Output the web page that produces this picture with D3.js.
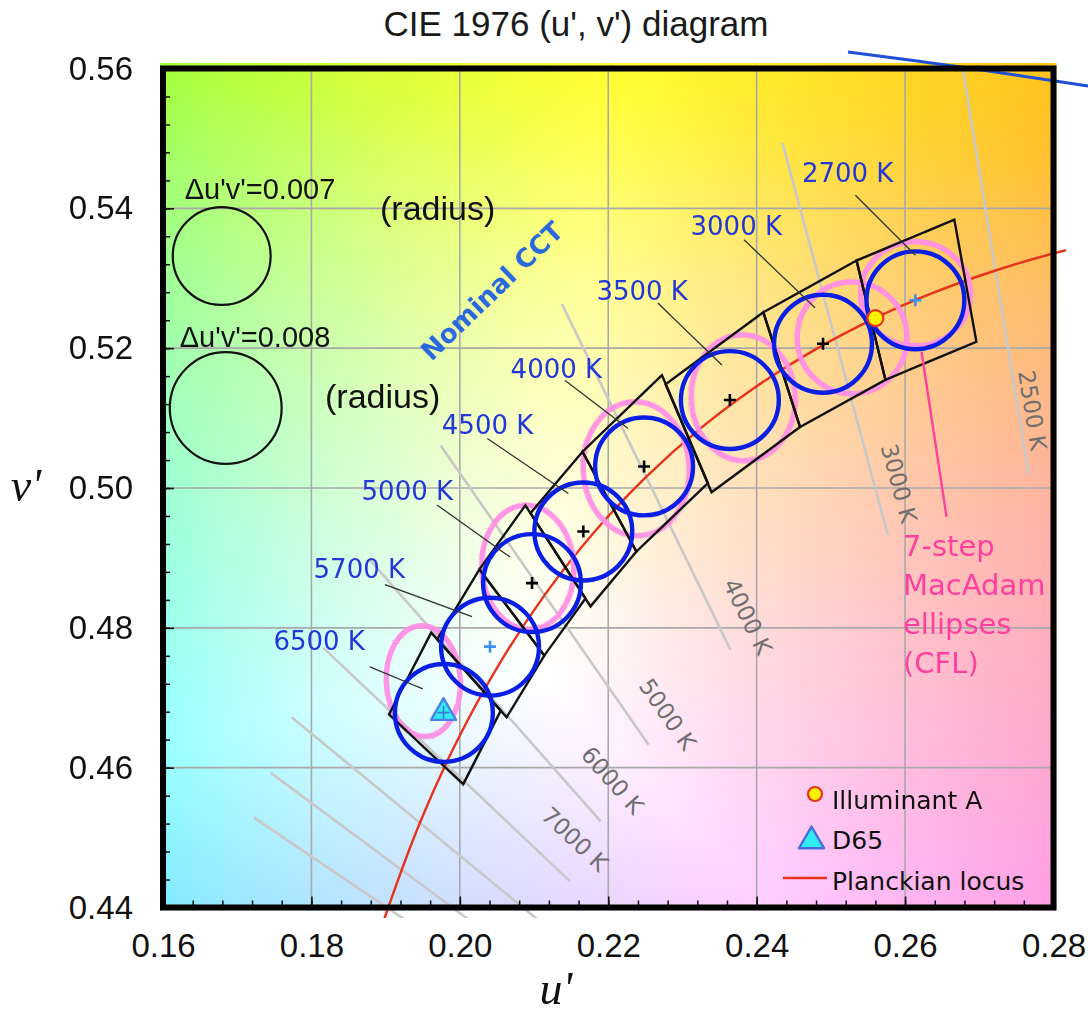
<!DOCTYPE html>
<html>
<head>
<meta charset="utf-8">
<script src="https://cdn.jsdelivr.net/npm/d3@7"></script>
<style>
  html, body { margin: 0; padding: 0; background: #fff; }
  svg { display: block; }
</style>
</head>
<body>
<svg id="chart" width="1088" height="1016"></svg>
<script>
// ---------------- data ----------------
const uTicks = [0.16, 0.18, 0.20, 0.22, 0.24, 0.26, 0.28];
const vTicks = [0.44, 0.46, 0.48, 0.50, 0.52, 0.54, 0.56];
const tickLabelsU = ["0.16", "0.18", "0.20", "0.22", "0.24", "0.26", "0.28"];
const tickLabelsV = ["0.44", "0.46", "0.48", "0.50", "0.52", "0.54", "0.56"];

// Planckian locus in (u', v')
const locusT = [11111, 10000, 8000, 6667, 5714, 5000, 4444, 4000, 3636, 3333, 3077, 2857, 2667, 2500, 2353, 2222];
const locusU = [0.18880, 0.19032, 0.19462, 0.19962, 0.20525, 0.21142, 0.21807, 0.22511, 0.23247, 0.24010, 0.24792, 0.25591, 0.26400, 0.27218, 0.28039, 0.28863];
const locusV = [0.43496, 0.43989, 0.45212, 0.46382, 0.47471, 0.48468, 0.49364, 0.50159, 0.50856, 0.51462, 0.51983, 0.52427, 0.52800, 0.53111, 0.53366, 0.53571];

// Isotemperature lines: locus point and slope dv/du in the CIE 1960 (u, v) plane
const isoT = [2500, 3000, 4000, 5000, 6000, 7000, 8000, 9000, 10000];
const isoU = [0.27218, 0.25058, 0.22511, 0.21142, 0.20337, 0.19819, 0.19462, 0.19223, 0.19032];
const isoV = [0.53111, 0.52131, 0.50159, 0.48468, 0.47108, 0.46047, 0.45212, 0.44532, 0.43989];
const isoSlope = [-4.3633, -2.6334, -1.4512, -1.0182, -0.8009, -0.6697, -0.58204, -0.5247, -0.47888];
const isoLabels = ["2500 K", "3000 K", "4000 K", "5000 K", "6000 K", "7000 K", "", "", ""];
const isoHalfLength = 0.02; // Δuv on each side of the locus

// ANSI C78.377 nominal CCT quadrangles
const ansiLabels = ["2700 K", "3000 K", "3500 K", "4000 K", "4500 K", "5000 K", "5700 K", "6500 K"];
const ansiCenterU = [0.26139, 0.24894, 0.23639, 0.22483, 0.21664, 0.20973, 0.20407, 0.19785];
const ansiCenterV = [0.52685, 0.52063, 0.51258, 0.50308, 0.49378, 0.48640, 0.47731, 0.46783];
const ansiCornerU = [
  [0.26664, 0.25346, 0.25735, 0.26961],
  [0.25346, 0.24090, 0.24584, 0.25735],
  [0.24090, 0.22773, 0.23392, 0.24584],
  [0.22724, 0.21653, 0.22379, 0.23343],
  [0.21653, 0.20952, 0.21761, 0.22379],
  [0.20883, 0.20264, 0.21138, 0.21693],
  [0.20264, 0.19696, 0.20630, 0.21138],
  [0.19614, 0.19046, 0.20046, 0.20552]
];
const ansiCornerV = [
  [0.53837, 0.53253, 0.51548, 0.52092],
  [0.53253, 0.52513, 0.50873, 0.51548],
  [0.52513, 0.51483, 0.49939, 0.50873],
  [0.51613, 0.50519, 0.49091, 0.50069],
  [0.50519, 0.49640, 0.48307, 0.49091],
  [0.49752, 0.48836, 0.47603, 0.48420],
  [0.48836, 0.47840, 0.46720, 0.47603],
  [0.47932, 0.46761, 0.45764, 0.46816]
];
const toleranceRadius = 0.007; // Δu'v' circle radius around each nominal CCT

// 7-step MacAdam ellipses for CFL
const cflT = [6500, 5000, 4000, 3500, 3000, 2700];
const cflU = [0.19508, 0.20916, 0.22377, 0.23818, 0.25286, 0.26141];
const cflV = [0.47238, 0.48867, 0.50275, 0.51290, 0.52148, 0.52777];
const cflRadiusU = [0.00499, 0.00620, 0.00714, 0.00700, 0.00740, 0.00740];
const cflRadiusV = [0.00794, 0.00887, 0.00958, 0.00900, 0.00800, 0.00744];
const cflTilt = [-3, -3, -3, -3, -3, 0];

// reference circles
const refRadius = [0.007, 0.008];
const refU = [0.16791, 0.16845];
const refV = [0.53318, 0.51144];
const refLabels = ["Δu'v'=0.007", "Δu'v'=0.008"];

// illuminants
const illumA = { u: 0.2560, v: 0.5243 };
const illumD65 = { u: 0.1978, v: 0.4683 };

// curve segment above the plot (upper right)
const edgeU = [0.25232, 0.26900, 0.28465];
const edgeV = [0.56236, 0.56000, 0.55750];

// ---------------- layout ----------------
const W = 1088, H = 1016;
const svg = d3.select("#chart");
const x = d3.scaleLinear().domain([0.16, 0.28]).range([163, 1053.5]);
const y = d3.scaleLinear().domain([0.44, 0.56]).range([907.5, 68.5]);
const [X0, X1] = x.range();
const [Y1, Y0] = y.range();

// background: chromaticity colours computed for every pixel (softly clipped, lightened towards white)
function softClip(c) {
  const e = 0.12;
  return (c + Math.sqrt(c * c + e * e)) / 2;
}
function uvToRgb(u, v) {
  const d = 6 * u - 16 * v + 12;
  const cx = 9 * u / d, cy = 4 * v / d;
  const X = cx / cy, Y = 1, Z = (1 - cx - cy) / cy;
  let r = (3.2406 * X - 1.5372 * Y - 0.4986 * Z) / 1.2048;
  let g = (-0.9689 * X + 1.8758 * Y + 0.0415 * Z) / 0.9484;
  let b = (0.0557 * X - 0.2040 * Y + 1.0570 * Z) / 0.9087;
  r = softClip(r); g = softClip(g); b = softClip(b);
  const m = Math.max(r, g, b);
  const gam = c => {
    c = 1 - Math.pow(1 - c / m, 1.25);
    return c <= 0.0031308 ? 12.92 * c : 1.055 * Math.pow(c, 1 / 2.4) - 0.055;
  };
  return [gam(r), gam(g), gam(b)];
}
const bgX = 160, bgY = 63, bgW = 897, bgH = 848;
const canvas = document.createElement("canvas");
canvas.width = bgW; canvas.height = bgH;
const ctx = canvas.getContext("2d");
const img = ctx.createImageData(bgW, bgH);
for (let j = 0; j < bgH; j++) {
  const v = y.invert(bgY + j + 0.5);
  for (let i = 0; i < bgW; i++) {
    const u = x.invert(bgX + i + 0.5);
    const c = uvToRgb(u, v);
    const k = 4 * (j * bgW + i);
    img.data[k] = Math.round(255 * c[0]);
    img.data[k + 1] = Math.round(255 * c[1]);
    img.data[k + 2] = Math.round(255 * c[2]);
    img.data[k + 3] = 255;
  }
}
ctx.putImageData(img, 0, 0);

const defs = svg.append("defs");
defs.append("clipPath").attr("id", "plotClip")
  .append("rect").attr("x", X0).attr("y", Y0).attr("width", X1 - X0).attr("height", Y1 - Y0);
defs.append("clipPath").attr("id", "looseClip")
  .append("rect").attr("x", X0).attr("y", Y0 - 4).attr("width", 1066 - X0).attr("height", 918 - Y0 + 4);
const rough = defs.append("filter").attr("id", "rough")
  .attr("x", "-10%").attr("y", "-10%").attr("width", "120%").attr("height", "120%");
rough.append("feTurbulence").attr("type", "fractalNoise").attr("baseFrequency", 0.6)
  .attr("numOctaves", 1).attr("seed", 4).attr("result", "n");
rough.append("feDisplacementMap").attr("in", "SourceGraphic").attr("in2", "n").attr("scale", 2.2);

svg.append("image")
  .attr("x", bgX).attr("y", bgY).attr("width", bgW).attr("height", bgH)
  .attr("href", canvas.toDataURL());

// white margins outside the plot, leaving a thin strip of colour above the frame
svg.append("rect").attr("x", 0).attr("y", Y1 + 3).attr("width", W).attr("height", H).attr("fill", "#fff");
svg.append("rect").attr("x", X1 + 3).attr("y", 0).attr("width", 60).attr("height", H).attr("fill", "#fff");
svg.append("rect").attr("x", 0).attr("y", 0).attr("width", X0 - 3).attr("height", H).attr("fill", "#fff");

// title
svg.append("text").attr("x", 576).attr("y", 36).attr("text-anchor", "middle")
  .attr("font-family", "Liberation Sans, Arial, sans-serif").attr("font-size", 35)
  .attr("fill", "#1a1a1a").text("CIE 1976 (u', v') diagram");

// grid
const grid = svg.append("g").attr("clip-path", "url(#plotClip)");
grid.selectAll("line.gu").data(uTicks.slice(1, -1)).join("line")
  .attr("x1", d => x(d)).attr("x2", d => x(d)).attr("y1", Y0).attr("y2", Y1)
  .attr("stroke", "#a9a9a9").attr("stroke-width", 1.6);
grid.selectAll("line.gv").data(vTicks.slice(1, -1)).join("line")
  .attr("y1", d => y(d)).attr("y2", d => y(d)).attr("x1", X0).attr("x2", X1)
  .attr("stroke", "#a9a9a9").attr("stroke-width", 1.6);

// isotemperature lines
const loose = svg.append("g").attr("clip-path", "url(#looseClip)");
const isoData = isoT.map((T, i) => {
  const n = Math.hypot(1, isoSlope[i]);
  const du = isoHalfLength / n, dv = isoHalfLength * isoSlope[i] / n * 1.5;
  return { T, label: isoLabels[i],
    a: [isoU[i] - du, isoV[i] - dv], b: [isoU[i] + du, isoV[i] + dv] };
});
loose.selectAll("line.iso").data(isoData).join("line")
  .attr("x1", d => x(d.a[0])).attr("y1", d => y(d.a[1]))
  .attr("x2", d => x(d.b[0])).attr("y2", d => y(d.b[1]))
  .attr("stroke", "#c8c8c8").attr("stroke-width", 2.6);

// where each isotherm label sits: distance back along the line from its lower end, and offset to the side
const isoLabelPlace = { 2500: [63, 14], 3000: [47, 24], 4000: [22, 30], 5000: [14, 33], 6000: [23, 36], 7000: [25, 34] };
svg.append("g").selectAll("text").data(isoData.filter(d => d.label)).join("text")
  .attr("transform", d => {
    const sx = x(d.a[0]), sy = y(d.a[1]), ex = x(d.b[0]), ey = y(d.b[1]);
    const L = Math.hypot(ex - sx, ey - sy), ux = (ex - sx) / L, uy = (ey - sy) / L;
    const [back, side] = isoLabelPlace[d.T];
    const cx = ex - back * ux + side * uy, cy = ey - back * uy - side * ux;
    return `translate(${cx},${cy}) rotate(${Math.atan2(uy, ux) * 180 / Math.PI})`;
  })
  .attr("text-anchor", "middle").attr("dominant-baseline", "central")
  .attr("font-family", "DejaVu Sans, Verdana, sans-serif").attr("font-size", 23)
  .attr("fill", "#6f6f6f").text(d => d.label);

// MacAdam ellipses
const cflData = cflT.map((T, i) => ({ T, u: cflU[i], v: cflV[i], ru: cflRadiusU[i], rv: cflRadiusV[i], tilt: cflTilt[i] }));
svg.append("g").attr("filter", "url(#rough)").selectAll("ellipse").data(cflData).join("ellipse")
  .attr("transform", d => `translate(${x(d.u)},${y(d.v)}) rotate(${d.tilt})`)
  .attr("rx", d => x(0.16 + d.ru) - x(0.16)).attr("ry", d => y(0.44) - y(0.44 + d.rv))
  .attr("fill", "none").attr("stroke", "#ff8fe6").attr("stroke-width", 5.5).attr("stroke-opacity", 0.95);

// Planckian locus
const locusData = locusT.map((T, i) => ({ T, u: locusU[i], v: locusV[i] }));
loose.append("path").datum(locusData)
  .attr("d", d3.line().x(d => x(d.u)).y(d => y(d.v)).curve(d3.curveCatmullRom))
  .attr("fill", "none").attr("stroke", "#e8321c").attr("stroke-width", 2.4);

// ANSI quadrangles
const ansiData = ansiLabels.map((label, i) => ({
  label, i, u: ansiCenterU[i], v: ansiCenterV[i],
  corners: ansiCornerU[i].map((cu, k) => [cu, ansiCornerV[i][k]])
}));
svg.append("g").selectAll("path").data(ansiData).join("path")
  .attr("d", d => "M" + d.corners.map(c => [x(c[0]), y(c[1])].join(",")).join("L") + "Z")
  .attr("fill", "none").attr("stroke", "#111").attr("stroke-width", 2.4).attr("stroke-linejoin", "miter");

// tolerance circles
const rPx = y(0.44) - y(0.44 + toleranceRadius);
svg.append("g").selectAll("circle").data(ansiData).join("circle")
  .attr("cx", d => x(d.u)).attr("cy", d => y(d.v)).attr("r", rPx)
  .attr("fill", "none").attr("stroke", "#0a1fe4").attr("stroke-width", 4.4);

// centre crosses
const blueCross = new Set(["2700 K", "5700 K"]);
svg.append("g").selectAll("path").data(ansiData.filter(d => d.label !== "6500 K")).join("path")
  .attr("transform", d => `translate(${x(d.u)},${y(d.v)})`)
  .attr("d", "M-6,0H6M0,-6V6")
  .attr("stroke", d => blueCross.has(d.label) ? "#3f8ff0" : "#000").attr("stroke-width", 2.6);

// illuminant A
svg.append("circle").attr("cx", x(illumA.u)).attr("cy", y(illumA.v)).attr("r", 8)
  .attr("fill", "#fff200").attr("stroke", "#e8321c").attr("stroke-width", 2.2);
// D65
const tri = d3.symbol(d3.symbolTriangle, 270);
svg.append("path").attr("transform", `translate(${x(illumD65.u)},${y(illumD65.v) + 3})`).attr("d", tri())
  .attr("fill", "#30eef0").attr("stroke", "#4a82e6").attr("stroke-width", 2.4).attr("stroke-linejoin", "round");
svg.append("path").attr("transform", `translate(${x(illumD65.u)},${y(illumD65.v) + 3})`)
  .attr("d", "M-6,0H6M0,-7V6").attr("stroke", "#3a78d8").attr("stroke-width", 1.6);

// CCT labels with leader lines: [text end x, baseline y, leader x1, y1, x2, y2] relative to each centre
const kelvinPlace = {
  "2700 K": [-22, -118, -60, -105, 0, -45],
  "3000 K": [-41, -109, -79, -104, -8, -36],
  "3500 K": [-42, -100, -72, -97, -8, -35],
  "4000 K": [-42, -88, -79, -86, -16, -38],
  "4500 K": [-50, -97, -96, -93, -15, -38],
  "5000 K": [-79, -83, -95, -78, -22, -26],
  "5700 K": [-85, -69, -105, -62, -18, -30],
  "6500 K": [-79, -63, -74, -46, -21, -24]
};
const kl = svg.append("g");
kl.selectAll("line").data(ansiData).join("line")
  .attr("x1", d => x(d.u) + kelvinPlace[d.label][2]).attr("y1", d => y(d.v) + kelvinPlace[d.label][3])
  .attr("x2", d => x(d.u) + kelvinPlace[d.label][4]).attr("y2", d => y(d.v) + kelvinPlace[d.label][5])
  .attr("stroke", "#333").attr("stroke-width", 1.3);
kl.selectAll("text").data(ansiData).join("text")
  .attr("x", d => x(d.u) + kelvinPlace[d.label][0]).attr("y", d => y(d.v) + kelvinPlace[d.label][1])
  .attr("text-anchor", "end")
  .attr("font-family", "DejaVu Sans, Verdana, sans-serif").attr("font-size", 26)
  .attr("fill", "#2336d8").text(d => d.label);

// nominal CCT caption
svg.append("text").attr("transform", "translate(492,291) rotate(-44)")
  .attr("text-anchor", "middle").attr("dominant-baseline", "central")
  .attr("font-family", "DejaVu Sans, Verdana, sans-serif").attr("font-size", 26).attr("font-weight", "bold")
  .attr("fill", "#2a68e0").text("Nominal CCT");

// reference circles
const refData = refRadius.map((r, i) => ({ r, u: refU[i], v: refV[i], label: refLabels[i] }));
const rg = svg.append("g");
rg.selectAll("circle").data(refData).join("circle")
  .attr("cx", d => x(d.u)).attr("cy", d => y(d.v)).attr("r", d => y(0.44) - y(0.44 + d.r))
  .attr("fill", "none").attr("stroke", "#111").attr("stroke-width", 2.2);
const refPlace = [[-37, -57, 380, 220], [-46, -61, 325, 408]];
rg.selectAll("text.lab").data(refData).join("text").attr("class", "lab")
  .attr("x", (d, i) => x(d.u) + refPlace[i][0]).attr("y", (d, i) => y(d.v) + refPlace[i][1])
  .attr("font-family", "Liberation Sans, Arial, sans-serif").attr("font-size", 29)
  .attr("fill", "#111").text(d => d.label);
rg.selectAll("text.rad").data(refData).join("text").attr("class", "rad")
  .attr("x", (d, i) => refPlace[i][2]).attr("y", (d, i) => refPlace[i][3])
  .attr("font-family", "Liberation Sans, Arial, sans-serif").attr("font-size", 34)
  .attr("fill", "#111").text("(radius)");

// MacAdam caption with pointer from the 2700 K ellipse
const e27 = cflData[cflData.length - 1];
svg.append("line").attr("x1", x(e27.u) + 6).attr("y1", y(e27.v) + 58)
  .attr("x2", x(e27.u) + 31).attr("y2", y(e27.v) + 223)
  .attr("stroke", "#ff3f9f").attr("stroke-width", 2.4);
const pinkLines = ["7-step", "MacAdam", "ellipses", "(CFL)"];
svg.append("g").selectAll("text").data(pinkLines).join("text")
  .attr("x", 903).attr("y", (d, i) => 556 + i * 39)
  .attr("font-family", "DejaVu Sans, Verdana, sans-serif").attr("font-size", 29)
  .attr("fill", "#ff3f9f").text(d => d);

// curve segment above the frame
svg.append("path").datum(edgeU.map((u, i) => [u, edgeV[i]]))
  .attr("d", d3.line().x(d => x(d[0])).y(d => y(d[1])).curve(d3.curveCatmullRom))
  .attr("fill", "none").attr("stroke", "#1f4fd6").attr("stroke-width", 3);

// legend
const lg = svg.append("g").attr("font-family", "DejaVu Sans, Verdana, sans-serif").attr("font-size", 25).attr("fill", "#111");
lg.append("circle").attr("cx", 815).attr("cy", 794).attr("r", 7)
  .attr("fill", "#fff200").attr("stroke", "#e8321c").attr("stroke-width", 2.2);
lg.append("text").attr("x", 832).attr("y", 809).text("Illuminant A");
lg.append("path").attr("transform", "translate(811.5,841)").attr("d", tri())
  .attr("fill", "#30eef0").attr("stroke", "#4a6ee0").attr("stroke-width", 2.4).attr("stroke-linejoin", "round");
lg.append("text").attr("x", 832).attr("y", 849).text("D65");
lg.append("line").attr("x1", 783).attr("x2", 827).attr("y1", 878).attr("y2", 878)
  .attr("stroke", "#e8321c").attr("stroke-width", 2.4);
lg.append("text").attr("x", 832).attr("y", 890).text("Planckian locus");

// axes
const minorU = d3.range(0, 31).map(k => 0.16 + k * 0.004);
const minorV = d3.range(0, 31).map(k => 0.44 + k * 0.004);
svg.append("g").attr("transform", `translate(0,${Y1})`)
  .call(d3.axisBottom(x).tickValues(minorU).tickSize(-7).tickFormat(""))
  .call(g => g.select(".domain").remove())
  .call(g => g.selectAll("line").attr("stroke", "#111").attr("stroke-width", 1.5));
svg.append("g").attr("transform", `translate(${X0},0)`)
  .call(d3.axisLeft(y).tickValues(minorV).tickSize(-7).tickFormat(""))
  .call(g => g.select(".domain").remove())
  .call(g => g.selectAll("line").attr("stroke", "#111").attr("stroke-width", 1.5));
svg.append("g").attr("transform", `translate(0,${Y1})`)
  .call(d3.axisBottom(x).tickValues(uTicks).tickSize(-11).tickPadding(26).tickFormat((d, i) => tickLabelsU[i]))
  .call(g => g.select(".domain").remove())
  .call(g => g.selectAll("line").attr("stroke", "#111").attr("stroke-width", 1.6))
  .call(g => g.selectAll("text").attr("font-family", "Liberation Sans, Arial, sans-serif").attr("font-size", 33).attr("fill", "#111"));
svg.append("g").attr("transform", `translate(${X0},0)`)
  .call(d3.axisLeft(y).tickValues(vTicks).tickSize(-11).tickPadding(30).tickFormat((d, i) => tickLabelsV[i]))
  .call(g => g.select(".domain").remove())
  .call(g => g.selectAll("line").attr("stroke", "#111").attr("stroke-width", 1.6))
  .call(g => g.selectAll("text").attr("font-family", "Liberation Sans, Arial, sans-serif").attr("font-size", 33).attr("fill", "#111"));

// frame
svg.append("rect").attr("x", X0).attr("y", Y0).attr("width", X1 - X0).attr("height", Y1 - Y0)
  .attr("fill", "none").attr("stroke", "#000").attr("stroke-width", 6);

// axis titles
svg.append("text").attr("x", 556).attr("y", 1004).attr("text-anchor", "middle")
  .attr("font-family", "Liberation Serif, Times New Roman, serif").attr("font-style", "italic")
  .attr("font-size", 46).attr("fill", "#111").text("u'");
svg.append("text").attr("x", 26).attr("y", 501).attr("text-anchor", "middle")
  .attr("font-family", "Liberation Serif, Times New Roman, serif").attr("font-style", "italic")
  .attr("font-size", 46).attr("fill", "#111").text("v'");
</script>
</body>
</html>
